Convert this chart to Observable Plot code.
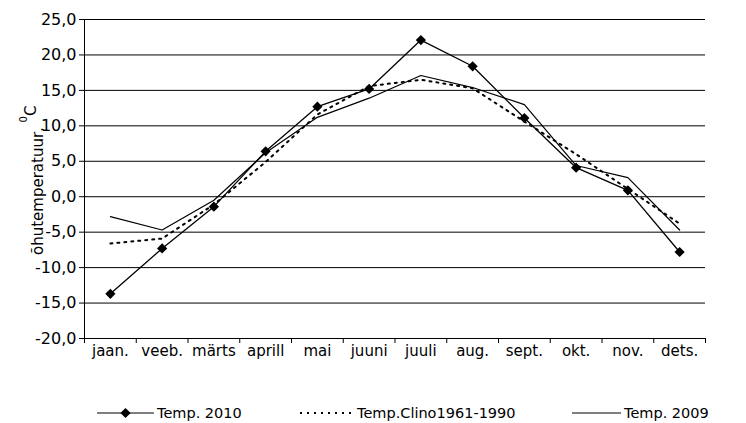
<!DOCTYPE html>
<html>
<head>
<meta charset="utf-8">
<script src="https://cdn.jsdelivr.net/npm/d3@7"></script>
<script src="https://cdn.jsdelivr.net/npm/@observablehq/plot@0.6"></script>
<style>
  html, body { margin: 0; padding: 0; background: #fff; }
  #wrap { width: 746px; height: 423px; position: relative; font-family: "DejaVu Sans", sans-serif; color: #000; }
  #legend { position: absolute; left: 0; top: 404px; width: 746px; height: 18px; font-size: 14.5px; }
  #legend .it { position: absolute; top: 0; height: 18px; line-height: 18px; white-space: nowrap; }
  #legend svg { position: absolute; top: 0; }
</style>
</head>
<body>
<div id="wrap">
  <div id="chart"></div>
  <div id="legend"></div>
</div>
<script>
const months = ["jaan.", "veeb.", "märts", "aprill", "mai", "juuni", "juuli", "aug.", "sept.", "okt.", "nov.", "dets."];
const temp2010 = [-13.7, -7.3, -1.4, 6.4, 12.7, 15.2, 22.1, 18.4, 11.1, 4.1, 0.9, -7.8];
const clino = [-6.6, -5.9, -1.1, 4.9, 11.6, 15.6, 16.5, 15.3, 10.6, 6.0, 1.1, -3.8];
const temp2009 = [-2.8, -4.7, -0.5, 6.2, 11.2, 13.9, 17.1, 15.4, 13.0, 4.4, 2.7, -4.7];
const yTicks = [-20, -15, -10, -5, 0, 5, 10, 15, 20, 25];
const seriesNames = ["Temp. 2010", "Temp.Clino1961-1990", "Temp. 2009"];
const yTitle = "õhutemperatuur, ";

const rows = vals => months.map((m, i) => ({i, m, v: vals[i]}));
const bounds = d3.range(months.length + 1).map(k => k - 0.5);

const chart = Plot.plot({
  width: 746,
  height: 395,
  marginLeft: 84,
  marginRight: 41,
  marginTop: 19,
  marginBottom: 57,
  style: {fontFamily: "DejaVu Sans, sans-serif", fontSize: "15px", color: "#000", background: "#fff", overflow: "visible"},
  x: {domain: [-0.5, months.length - 0.5], axis: null},
  y: {domain: [-20, 25], axis: null},
  marks: [
    Plot.ruleY(yTicks, {stroke: "#000", strokeWidth: 1}),
    Plot.ruleX([-0.5], {y1: -20, y2: 25, stroke: "#000", strokeWidth: 1}),
    Plot.axisY({ticks: yTicks, tickSize: 5, tickPadding: 3, tickFormat: d => d.toFixed(1).replace(".", ","), fontSize: 16, label: null, stroke: "#000"}),
    Plot.axisX({ticks: bounds, tickSize: 5, tickFormat: () => "", label: null, stroke: "#000"}),
    Plot.axisX({ticks: d3.range(months.length), tickSize: 0, tickPadding: 7, tickFormat: i => months[i], label: null, fontSize: 15}),
    Plot.line(rows(temp2009), {x: "i", y: "v", stroke: "#000", strokeWidth: 1.2}),
    Plot.line(rows(clino), {x: "i", y: "v", stroke: "#000", strokeWidth: 2, strokeDasharray: "2,5"}),
    Plot.line(rows(temp2010), {x: "i", y: "v", stroke: "#000", strokeWidth: 1.3}),
    Plot.dot(rows(temp2010), {x: "i", y: "v", symbol: "diamond2", r: 4.6, fill: "#000", stroke: "none"})
  ]
});
document.getElementById("chart").appendChild(chart);

// y-axis title with raised "0C"
const t = d3.select(chart).append("text")
  .attr("transform", "translate(43,255) rotate(-90)")
  .attr("text-anchor", "start")
  .attr("font-family", "DejaVu Sans, sans-serif")
  .attr("font-size", 15)
  .attr("fill", "#000");
t.append("tspan").text(yTitle);
t.append("tspan").attr("font-size", 10).attr("dy", -16).text("0");
t.append("tspan").attr("font-size", 15).attr("dy", 9).text("C");

// legend
const legend = d3.select("#legend");
function item(x0, x1, textX, name, kind) {
  const w = x1 - x0;
  const s = legend.append("svg").attr("width", w).attr("height", 18).style("left", x0 + "px");
  s.append("line").attr("x1", 0).attr("x2", w).attr("y1", 9).attr("y2", 9)
    .attr("stroke", "#000")
    .attr("stroke-width", kind === "dot" ? 2 : 1.2)
    .attr("stroke-dasharray", kind === "dot" ? "2,5" : null);
  if (kind === "diamond") {
    s.append("path").attr("d", d3.symbol(d3.symbolDiamond2, Math.PI * 4.6 * 4.6)()).attr("transform", `translate(${w / 2},9)`).attr("fill", "#000");
  }
  legend.append("span").attr("class", "it").style("left", textX + "px").text(name);
}
item(97, 154, 157, seriesNames[0], "diamond");
item(300, 353, 357, seriesNames[1], "dot");
item(572, 621, 624, seriesNames[2], "solid");
</script>
</body>
</html>
